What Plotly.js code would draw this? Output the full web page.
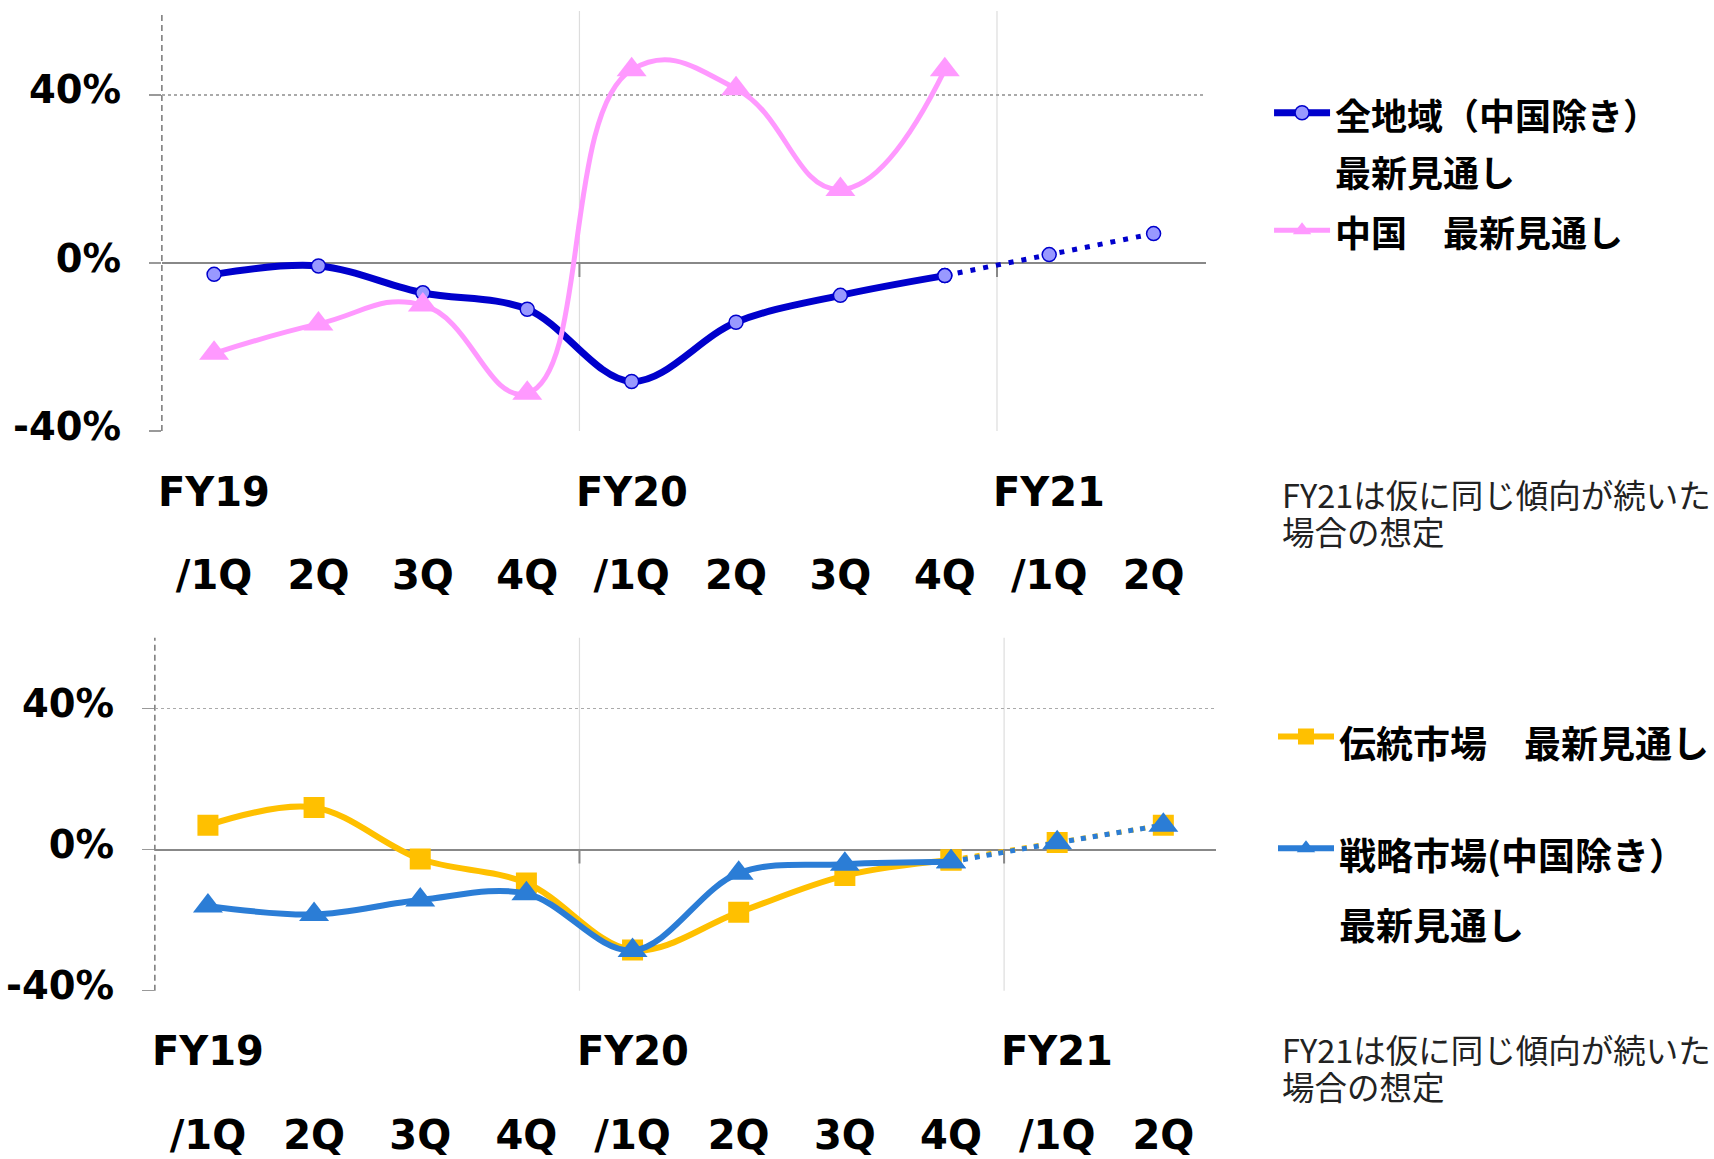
<!DOCTYPE html>
<html><head><meta charset="utf-8">
<script src="https://cdn.plot.ly/plotly-3.0.1.min.js"></script>
<style>html,body{margin:0;padding:0;background:#fff;}</style>
</head><body><div id="chart" style="width:1714px;height:1159px;"></div>
<script>
// ---- data ----
const quarters = ["FY19/1Q","FY19/2Q","FY19/3Q","FY19/4Q","FY20/1Q","FY20/2Q","FY20/3Q","FY20/4Q","FY21/1Q","FY21/2Q"];
const quarterLabels = ["/1Q","2Q","3Q","4Q","/1Q","2Q","3Q","4Q","/1Q","2Q"];
const fiscalYears = ["FY19","FY20","FY21"];
const fiscalYearStart = ["FY19/1Q","FY20/1Q","FY21/1Q"];
const allRegionsExChina = [-2.7,-0.7,-7.1,-11.0,-28.2,-14.1,-7.7,-3.0,2.0,7.0];
const china = [-21.5,-14.5,-10.0,-31.0,46.0,41.5,17.5,46.0,null,null];
const traditionalMarkets = [6.9,11.9,-2.7,-9.5,-28.5,-17.8,-7.4,-3.0,2.0,6.9];
const strategicMarketsExChina = [-16.0,-18.4,-14.3,-12.5,-28.6,-6.7,-4.2,-3.5,1.9,6.9];
const yTickVals = [-40,0,40];
const yTickText = ["-40%","0%","40%"];
const seriesNames = ["全地域（中国除き）<br>最新見通し","中国　最新見通し","伝統市場　最新見通し","戦略市場(中国除き）<br>最新見通し"];
const noteText = "FY21は仮に同じ傾向が続いた<br>場合の想定";
const lastActual = 7; // FY20/4Q; later points are assumptions (dotted)

// ---- styles ----
const C_BLUE = "#0000CC", C_BLUE_FILL = "#9999FF", C_PINK = "#FF99FF", C_YELLOW = "#FFC000", C_SBLUE = "#2B7DD6";
const LATIN = "DejaVu Sans", CJK = "Noto Sans CJK JP";
function spanned(name, px){ return name.split("<br>").map(s => '<span style="font-size:'+px+'px">'+s+'</span>').join("<br>"); }
const act = a => a.slice(0, lastActual+1);
const fc = a => a.slice(lastActual);

const traces = [
  {x: act(quarters), y: act(allRegionsExChina), name: spanned(seriesNames[0],36), legend:"legend",
   mode:"lines+markers", line:{color:C_BLUE,width:7,shape:"spline",smoothing:1},
   marker:{symbol:"circle",size:14,color:C_BLUE_FILL,line:{color:C_BLUE,width:1.5}}, xaxis:"x", yaxis:"y"},
  {x: fc(quarters), y: fc(allRegionsExChina), showlegend:false,
   mode:"lines+markers", line:{color:C_BLUE,width:5,dash:"5px,8px",shape:"spline",smoothing:1},
   marker:{symbol:"circle",size:14,color:C_BLUE_FILL,line:{color:C_BLUE,width:1.5}}, xaxis:"x", yaxis:"y"},
  {x: quarters, y: china, name: spanned(seriesNames[1],36), legend:"legend",
   mode:"lines+markers", line:{color:C_PINK,width:5,shape:"spline",smoothing:1.3},
   marker:{symbol:"triangle-up",size:26,color:C_PINK}, xaxis:"x", yaxis:"y"},
  {x: act(quarters), y: act(traditionalMarkets), name: spanned(seriesNames[2],37), legend:"legend2", legendgroup:"g1",
   mode:"lines+markers", line:{color:C_YELLOW,width:6,shape:"spline",smoothing:1},
   marker:{symbol:"square",size:21,color:C_YELLOW}, xaxis:"x2", yaxis:"y2"},
  {x: fc(quarters), y: fc(traditionalMarkets), showlegend:false,
   mode:"lines+markers", line:{color:C_YELLOW,width:5,dash:"5px,7px",shape:"spline",smoothing:1},
   marker:{symbol:"square",size:21,color:C_YELLOW}, xaxis:"x2", yaxis:"y2"},
  {x: act(quarters), y: act(strategicMarketsExChina), name: spanned(seriesNames[3],37), legend:"legend2", legendgroup:"g2",
   mode:"lines+markers", line:{color:C_SBLUE,width:6,shape:"spline",smoothing:1},
   marker:{symbol:"triangle-up",size:26,color:C_SBLUE}, xaxis:"x2", yaxis:"y2"},
  {x: fc(quarters), y: fc(strategicMarketsExChina), showlegend:false,
   mode:"lines+markers", line:{color:C_SBLUE,width:5,dash:"5px,7px",shape:"spline",smoothing:1},
   marker:{symbol:"triangle-up",size:26,color:C_SBLUE}, xaxis:"x2", yaxis:"y2"}
];

const tickFont = {family:LATIN,size:40,color:"#000",weight:"bold"};
const yTickFont = {family:LATIN,size:38.5,color:"#000",weight:"bold"};
function xAxis(domain, anchor){
  return {domain, anchor, type:"category", categoryorder:"array", categoryarray:quarters,
    range:[-0.5, quarters.length-0.5], tickvals:quarters, ticktext:quarterLabels,
    showgrid:false, zeroline:false, showline:false, ticks:"", tickfont:tickFont,
    ticklabelstandoff:117, fixedrange:true};
}
function yAxis(domain, anchor){
  return {domain, anchor, range:[-40,60], tickvals:yTickVals, ticktext:yTickText,
    showgrid:true, gridcolor:"#aaaaaa", griddash:"dot", gridwidth:1.5,
    zeroline:true, zerolinecolor:"#888888", zerolinewidth:2,
    ticks:"outside", ticklen:12, tickcolor:"#999999", tickwidth:1.5,
    showline:false, tickfont:yTickFont, ticklabelstandoff:20, ticklabelshift:-5, fixedrange:true};
}

// shapes: fiscal year boundaries, dashed value axis, ticks on the zero line
const shapes = [];
[["x","y"],["x2","y2"]].forEach(([xa,ya])=>{
  shapes.push({type:"line", layer:"below", xref:xa+" domain", yref:ya+" domain", x0:0,x1:0,y0:0,y1:1,
    line:{color:"#777777",width:1.5,dash:"6px,4px"}});
  fiscalYearStart.slice(1).forEach(q=>{
    const b = quarters.indexOf(q) - 0.5;
    shapes.push({type:"line", layer:"below", xref:xa, yref:ya+" domain", x0:b,x1:b,y0:0,y1:1,
      line:{color:"#dddddd",width:1.2}});
    shapes.push({type:"line", layer:"below", xref:xa, yref:ya, ysizemode:"pixel", yanchor:0,
      x0:b,x1:b,y0:-14,y1:0, line:{color:"#888888",width:2}});
  });
});

const annotations = [];
[["x",0.5755,0.5965],["x2",0.0928,0.1171]].forEach(([xa,yFy,yNote])=>{
  fiscalYears.forEach((fy,i)=>annotations.push({xref:xa, yref:"paper", x:fiscalYearStart[i], y:yFy,
    text:fy, showarrow:false, xanchor:"center", yanchor:"middle", font:tickFont}));
  annotations.push({xref:"paper", yref:"paper", x:0.7474, y:yNote, xanchor:"left", yanchor:"top", align:"left",
    text:spanned(noteText,32.5), showarrow:false, font:{family:CJK,size:28.5,color:"#222"}});
});

const layout = {
  width:1714, height:1159, margin:{l:0,r:0,t:0,b:0}, paper_bgcolor:"#fff", plot_bgcolor:"#fff",
  showlegend:true,
  xaxis: xAxis([0.0945,0.7039],"y"), yaxis: yAxis([0.6281,0.9905],"x"),
  xaxis2: xAxis([0.0904,0.7101],"y2"), yaxis2: yAxis([0.1452,0.4498],"x2"),
  legend:{x:0.7404, y:0.9330, xanchor:"left", yanchor:"top", itemwidth:56, valign:"top",
    bgcolor:"rgba(0,0,0,0)", font:{family:CJK,size:44,color:"#000",weight:"bold"}},
  legend2:{x:0.7433, y:0.4008, xanchor:"left", yanchor:"top", itemwidth:56, valign:"top", tracegroupgap:38,
    bgcolor:"rgba(0,0,0,0)", font:{family:CJK,size:54.5,color:"#000",weight:"bold"}},
  shapes, annotations
};
Plotly.newPlot("chart", traces, layout, {staticPlot:true, displayModeBar:false});
</script></body></html>
